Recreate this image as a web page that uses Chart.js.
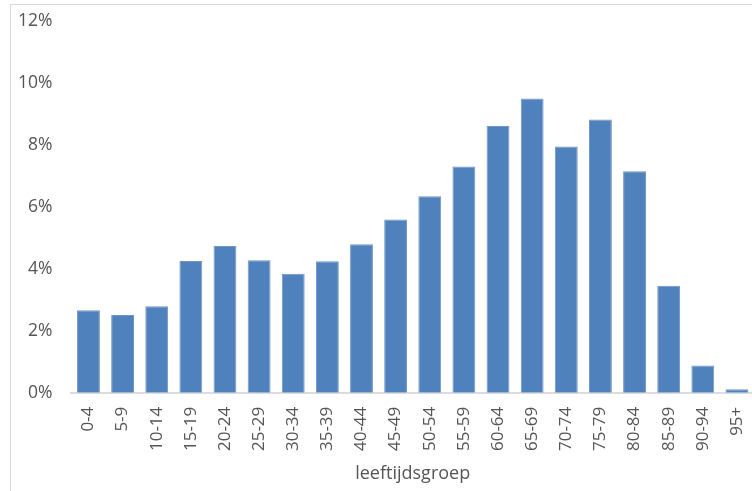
<!DOCTYPE html>
<html>
<head>
<meta charset="utf-8">
<script src="https://cdn.jsdelivr.net/npm/chart.js@4/dist/chart.umd.min.js"></script>
<style>
  html, body { margin: 0; padding: 0; background: #fff; overflow: hidden; }
  #frame { position: absolute; left: 10px; top: 4px; width: 900px; height: 700px; border: 1px solid #d9d9d9; box-sizing: border-box; }
  #wrap { position: absolute; left: 0; top: 0; width: 754px; height: 491px; }
</style>
</head>
<body>
<div id="frame"></div>
<div id="wrap"><canvas id="c" width="754" height="491"></canvas></div>
<script>
// Age groups (leeftijdsgroep) and share of cases per group, in percent
const ageGroups = ['0-4', '5-9', '10-14', '15-19', '20-24', '25-29', '30-34', '35-39', '40-44', '45-49',
                   '50-54', '55-59', '60-64', '65-69', '70-74', '75-79', '80-84', '85-89', '90-94', '95+'];
const sharePercent = [2.66, 2.51, 2.79, 4.25, 4.74, 4.28, 3.84, 4.24, 4.79, 5.59,
                      6.34, 7.30, 8.61, 9.50, 7.95, 8.82, 7.15, 3.45, 0.88, 0.11];
const yTicks = [0, 2, 4, 6, 8, 10, 12];

const textColor = '#555555';
const fontFamily = '"Open Sans", "Noto Sans", sans-serif';

new Chart(document.getElementById('c'), {
  type: 'bar',
  data: {
    labels: ageGroups,
    datasets: [{
      data: sharePercent,
      backgroundColor: '#4f81bd',
      borderColor: '#7096c8',
      borderWidth: 1,
      barPercentage: 0.67,
      categoryPercentage: 1.0
    }]
  },
  options: {
    responsive: false,
    animation: false,
    layout: { padding: { top: 21, left: 0, right: 0, bottom: 0 } },
    plugins: { legend: { display: false }, tooltip: { enabled: false } },
    scales: {
      x: {
        grid: { display: false, drawTicks: false },
        border: { display: true, color: '#dcdcdc', width: 2 },
        ticks: {
          color: textColor,
          font: { family: fontFamily, size: 17 },
          minRotation: 90,
          maxRotation: 90,
          padding: 14,
          autoSkip: false
        },
        title: {
          display: true,
          text: 'leeftijdsgroep',
          color: textColor,
          font: { family: fontFamily, size: 18 },
          padding: { top: 4, bottom: 6 }
        },
        afterFit: (scale) => {
          scale.height = 98.3;
          scale.paddingLeft = 0;
          scale.paddingRight = 0;
        }
      },
      y: {
        min: yTicks[0],
        max: yTicks[yTicks.length - 1],
        grid: { display: false, drawTicks: false },
        border: { display: false },
        afterBuildTicks: (scale) => {
          scale.ticks = yTicks.map(v => ({ value: v }));
        },
        ticks: {
          color: textColor,
          font: { family: fontFamily, size: 17.5 },
          padding: 19,
          callback: (v) => v + '%'
        },
        afterFit: (scale) => {
          scale.width = 71.4;
          scale.paddingTop = 0;
          scale.paddingBottom = 0;
        }
      }
    }
  }
});
</script>
</body>
</html>
